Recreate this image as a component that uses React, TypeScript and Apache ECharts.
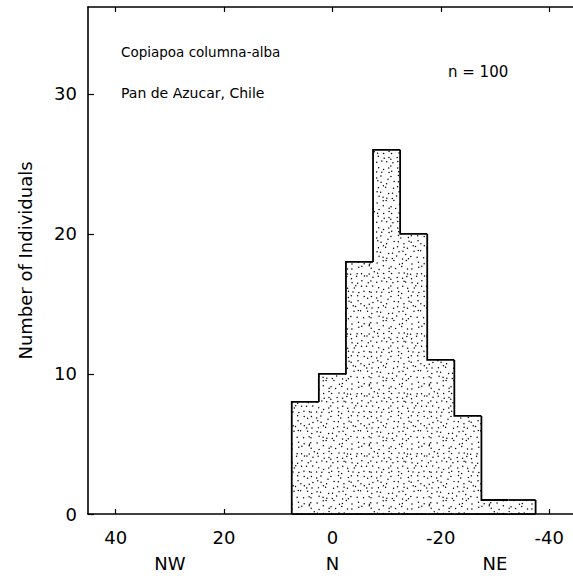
import React, { useEffect, useRef } from "react";
import * as echarts from "echarts";

// ---- data ----
const binCenters = [5, 0, -5, -10, -15, -20, -25, -30, -35];
const binCounts = [8, 10, 18, 26, 20, 11, 7, 1, 1];
const binWidth = 5;
const xTickValues = [40, 20, 0, -20, -40];
const yTickValues = [0, 10, 20, 30];
const directionValues = [30, 0, -30];
const directionLabels = ["NW", "N", "NE"];
const speciesLabel = "Copiapoa columna-alba";
const siteLabel = "Pan de Azucar, Chile";
const sampleLabel = "n = 100";
const yAxisTitle = "Number of Individuals";

const FONT = "DejaVu Sans";
const X_MIN = -44.4;
const X_MAX = 45.1;

function makeStipple(): HTMLCanvasElement {
  const size = 60;
  const c = document.createElement("canvas");
  c.width = size;
  c.height = size;
  const ctx = c.getContext("2d")!;
  ctx.fillStyle = "#ffffff";
  ctx.fillRect(0, 0, size, size);
  ctx.fillStyle = "#000000";
  let s = 12345;
  const rnd = () => {
    s = (s * 16807) % 2147483647;
    return s / 2147483647;
  };
  const cell = 5;
  for (let i = 0; i < size / cell; i++) {
    for (let j = 0; j < size / cell; j++) {
      const x = i * cell + rnd() * (cell - 1);
      const y = j * cell + rnd() * (cell - 1);
      ctx.beginPath();
      ctx.arc(x + 0.5, y + 0.5, 0.75, 0, Math.PI * 2);
      ctx.fill();
    }
  }
  return c;
}

export default function App() {
  const ref = useRef<HTMLDivElement>(null);

  useEffect(() => {
    if (!ref.current) return;
    const chart = echarts.init(ref.current, null, { renderer: "svg" });
    const stipple = makeStipple();
    const pattern: any = {
      image: stipple,
      repeat: "repeat",
      imageWidth: stipple.width,
      imageHeight: stipple.height,
    };
    const lineStyle = { stroke: "#000", lineWidth: 1.8, fill: null as any };

    const option: any = {
      animation: false,
      backgroundColor: "#ffffff",
      grid: { left: 88, right: 0, top: 7, bottom: 67, containLabel: false },
      xAxis: [
        {
          type: "value",
          position: "bottom",
          inverse: true,
          min: X_MIN,
          max: X_MAX,
          axisLine: { show: true, onZero: false, lineStyle: { color: "#000", width: 1.6 } },
          axisTick: {
            show: true,
            inside: true,
            length: 5,
            customValues: xTickValues,
            lineStyle: { color: "#000", width: 1.2 },
          },
          axisLabel: {
            customValues: xTickValues,
            margin: 14,
            fontSize: 18,
            fontFamily: FONT,
            color: "#000",
          },
          splitLine: { show: false },
        },
        {
          type: "value",
          position: "top",
          inverse: true,
          min: X_MIN,
          max: X_MAX,
          axisLine: { show: true, onZero: false, lineStyle: { color: "#000", width: 1.6 } },
          axisTick: {
            show: true,
            inside: true,
            length: 5,
            customValues: xTickValues,
            lineStyle: { color: "#000", width: 1.2 },
          },
          axisLabel: { show: false },
          splitLine: { show: false },
        },
        {
          type: "value",
          position: "bottom",
          inverse: true,
          min: X_MIN,
          max: X_MAX,
          axisLine: { show: false, onZero: false },
          axisTick: { show: false },
          axisLabel: {
            customValues: directionValues,
            margin: 40,
            fontSize: 18,
            fontFamily: FONT,
            color: "#000",
            formatter: (v: number) => {
              const k = directionValues.indexOf(v);
              return k >= 0 ? directionLabels[k] : "";
            },
          },
          splitLine: { show: false },
        },
      ],
      yAxis: {
        type: "value",
        position: "left",
        min: 0,
        max: 36.2,
        name: yAxisTitle,
        nameLocation: "middle",
        nameGap: 54,
        nameTextStyle: { fontSize: 18, fontFamily: FONT, color: "#000" },
        axisLine: { show: true, onZero: false, lineStyle: { color: "#000", width: 1.6 } },
        axisTick: {
          show: true,
          inside: true,
          length: 6,
          customValues: yTickValues,
          lineStyle: { color: "#000", width: 1.2 },
        },
        axisLabel: {
          customValues: yTickValues,
          margin: 11,
          fontSize: 18,
          fontFamily: FONT,
          color: "#000",
        },
        splitLine: { show: false },
      },
      series: [
        {
          type: "custom",
          xAxisIndex: 0,
          yAxisIndex: 0,
          data: binCenters.map((c, i) => [c, binCounts[i]]),
          renderItem: (params: any, api: any) => {
            const i = params.dataIndex;
            const c = api.value(0);
            const h = api.value(1);
            const lb = api.coord([c + binWidth / 2, 0]);
            const rt = api.coord([c - binWidth / 2, h]);
            const prevH = i > 0 ? binCounts[i - 1] : 0;
            const prev = api.coord([c + binWidth / 2, prevH]);
            const x0 = lb[0];
            const y0 = lb[1];
            const x1 = rt[0];
            const yt = rt[1];
            const children: any[] = [
              {
                type: "rect",
                shape: { x: Math.min(x0, x1), y: yt, width: Math.abs(x1 - x0), height: y0 - yt },
                style: { fill: pattern },
              },
              {
                type: "polyline",
                shape: { points: [[x0, prev[1]], [x0, yt], [x1, yt]] },
                style: lineStyle,
              },
              {
                type: "line",
                shape: { x1: x0, y1: y0, x2: x1, y2: y0 },
                style: lineStyle,
              },
            ];
            if (i === binCounts.length - 1) {
              children.push({
                type: "line",
                shape: { x1: x1, y1: yt, x2: x1, y2: y0 },
                style: lineStyle,
              });
            }
            return { type: "group", children };
          },
        },
      ],
      graphic: [
        {
          type: "text",
          x: 121,
          y: 52,
          style: { text: speciesLabel, fontSize: 13.5, fontFamily: FONT, fill: "#000", verticalAlign: "middle" },
        },
        {
          type: "text",
          x: 121,
          y: 93,
          style: { text: siteLabel, fontSize: 14, fontFamily: FONT, fill: "#000", verticalAlign: "middle" },
        },
        {
          type: "text",
          x: 448,
          y: 72,
          style: { text: sampleLabel, fontSize: 15, fontFamily: FONT, fill: "#000", verticalAlign: "middle" },
        },
      ],
    };
    chart.setOption(option);
    return () => chart.dispose();
  }, []);

  return (
    <div
      ref={ref}
      style={{ position: "fixed", left: 0, top: 0, width: 573, height: 581, background: "#fff" }}
    />
  );
}
